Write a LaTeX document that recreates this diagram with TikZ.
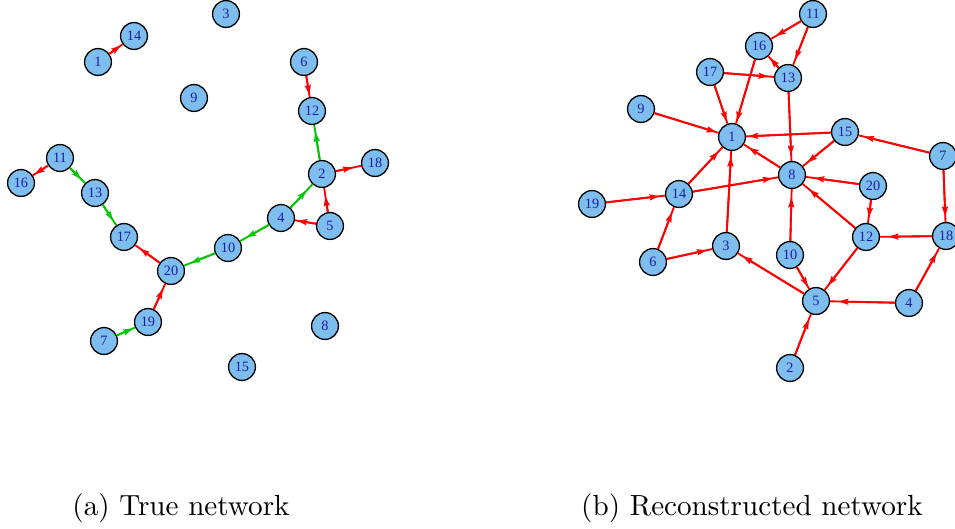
\documentclass[tikz,border=0pt]{standalone}
\usepackage{fontspec}
\newfontfamily\lblfont{Liberation Serif}
\usetikzlibrary{arrows.meta}
\definecolor{vfill}{RGB}{125,190,238}
\definecolor{vtext}{RGB}{30,30,160}
\definecolor{egreen}{RGB}{0,200,0}
\definecolor{ered}{RGB}{255,0,0}
\tikzset{
  vtx/.style={circle, draw=black, line width=0.45pt, fill=vfill, minimum size=9.4pt,
    inner sep=0pt, text=vtext, font=\lblfont\fontsize{5}{6}\selectfont},
  % full line from node to node, with the head drawn a little before the target
  edge/.style={line width=0.65pt,
    postaction={draw, -{Stealth[length=3.4pt,width=2.1pt,inset=0.5pt]}, shorten >=#1}},
  edge/.default=0.8pt,
  re/.style={edge=#1, draw=ered},
  re/.default=0.8pt,
  ge/.style={edge=#1, draw=egreen},
  ge/.default=0.8pt,
  capt/.style={font=\fontsize{10.2}{12}\selectfont}
}
\begin{document}
\begin{tikzpicture}[x=0.35pt, y=-0.35pt]
\useasboundingbox (0,0) rectangle (955,529);

% ---- true network ----
\node[vtx] (a1)  at (98,62)   {1};
\node[vtx] (a14) at (134,36)  {14};
\node[vtx] (a3)  at (226,14)  {3};
\node[vtx] (a9)  at (194,98)  {9};
\node[vtx] (a6)  at (304,62)  {6};
\node[vtx] (a12) at (312,111) {12};
\node[vtx] (a2)  at (322,174) {2};
\node[vtx] (a18) at (375,163) {18};
\node[vtx] (a11) at (60,158)  {11};
\node[vtx] (a16) at (21,183)  {16};
\node[vtx] (a13) at (95,193)  {13};
\node[vtx] (a17) at (124,237) {17};
\node[vtx] (a4)  at (281,218) {4};
\node[vtx] (a5)  at (330,226) {5};
\node[vtx] (a10) at (228,248) {10};
\node[vtx] (a20) at (171,271) {20};
\node[vtx] (a19) at (148,322) {19};
\node[vtx] (a7)  at (104,341) {7};
\node[vtx] (a8)  at (325,326) {8};
\node[vtx] (a15) at (242,367) {15};

\draw[re] (a1) -- (a14);
\draw[re] (a6) -- (a12);
\draw[ge=2.5pt] (a2) -- (a12);
\draw[re=3pt] (a2) -- (a18);
\draw[re] (a11) -- (a16);
\draw[ge=2pt] (a11) -- (a13);
\draw[ge=2pt] (a13) -- (a17);
\draw[re=2pt] (a20) -- (a17);
\draw[ge=3pt] (a4) -- (a2);
\draw[re=3pt] (a5) -- (a2);
\draw[re] (a5) -- (a4);
\draw[ge=2.5pt] (a4) -- (a10);
\draw[ge=2.5pt] (a10) -- (a20);
\draw[re=2pt] (a19) -- (a20);
\draw[ge] (a7) -- (a19);

\node[capt] (capa) at (181,508) {(a) True network};

% ---- reconstructed network ----
\node[vtx] (b11) at (813,14)  {11};
\node[vtx] (b16) at (759,46)  {16};
\node[vtx] (b13) at (788,78)  {13};
\node[vtx] (b17) at (710,72)  {17};
\node[vtx] (b9)  at (641,109) {9};
\node[vtx] (b1)  at (732,137) {1};
\node[vtx] (b15) at (845,132) {15};
\node[vtx] (b7)  at (943,156) {7};
\node[vtx] (b8)  at (792,175) {8};
\node[vtx] (b20) at (873,186) {20};
\node[vtx] (b14) at (679,194) {14};
\node[vtx] (b19) at (592,204) {19};
\node[vtx] (b3)  at (726,246) {3};
\node[vtx] (b6)  at (653,262) {6};
\node[vtx] (b10) at (790,255) {10};
\node[vtx] (b12) at (866,237) {12};
\node[vtx] (b18) at (946,236) {18};
\node[vtx] (b5)  at (816,301) {5};
\node[vtx] (b4)  at (909,303) {4};
\node[vtx] (b2)  at (790,368) {2};

\draw[re=2pt] (b11) -- (b16);
\draw[re=2pt] (b11) -- (b13);
\draw[re] (b13) -- (b16);
\draw[re=2pt] (b17) -- (b13);
\draw[re] (b17) -- (b1);
\draw[re] (b16) -- (b1);
\draw[re=2pt] (b13) -- (b8);
\draw[re] (b9) -- (b1);
\draw[re] (b15) -- (b1);
\draw[re=2pt] (b7) -- (b15);
\draw[re=2pt] (b15) -- (b8);
\draw[re=2pt] (b8) -- (b1);
\draw[re=2pt] (b14) -- (b1);
\draw[re=2pt] (b3) -- (b1);
\draw[re=2pt] (b14) -- (b8);
\draw[re=3pt] (b20) -- (b8);
\draw[re=3pt] (b12) -- (b8);
\draw[re=3pt] (b10) -- (b8);
\draw[re=2pt] (b19) -- (b14);
\draw[re=2pt] (b6) -- (b14);
\draw[re=2pt] (b6) -- (b3);
\draw[re=2pt] (b5) -- (b3);
\draw[re] (b10) -- (b5);
\draw[re=2pt] (b12) -- (b5);
\draw[re=3pt] (b4) -- (b5);
\draw[re=2pt] (b20) -- (b12);
\draw[re=3pt] (b18) -- (b12);
\draw[re=2pt] (b7) -- (b18);
\draw[re=2pt] (b4) -- (b18);
\draw[re=2pt] (b2) -- (b5);

\node[capt] (captb) at (752,508) {(b) Reconstructed network};
\end{tikzpicture}
\end{document}
